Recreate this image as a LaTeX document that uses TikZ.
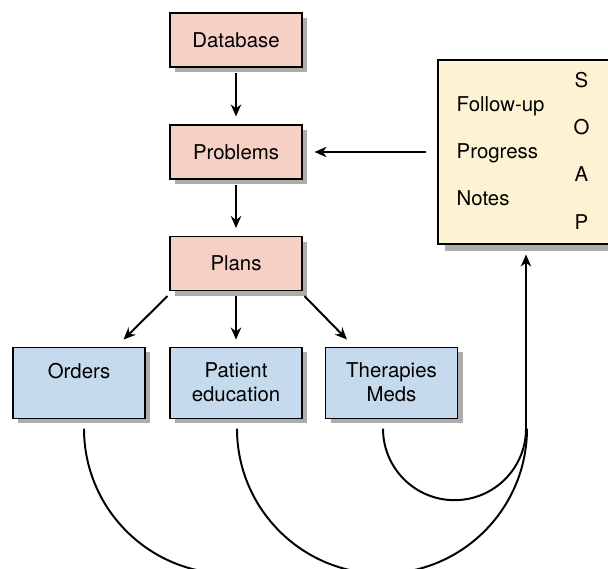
\documentclass[tikz,border=0pt]{standalone}
\usepackage{fontspec}
\setmainfont{TeX Gyre Heros}
\usetikzlibrary{arrows.meta,shadows}
\definecolor{chartpink}{RGB}{246,208,196}
\definecolor{chartblue}{RGB}{198,218,238}
\definecolor{chartcream}{RGB}{253,243,210}
\tikzstyle{chartbox}=[draw, line width=0.8pt, text centered,
    font=\fontsize{14.5}{17}\selectfont]
\tikzstyle{record}=[chartbox, fill=chartpink, minimum width=3.3cm,
    minimum height=1.35cm,
    drop shadow={shadow xshift=0.125cm, shadow yshift=-0.125cm, fill=black!32, opacity=1}]
\tikzstyle{action}=[chartbox, fill=chartblue, minimum width=3.3cm,
    minimum height=1.775cm, align=center,
    drop shadow={shadow xshift=0.125cm, shadow yshift=-0.125cm, fill=black!32, opacity=1}]
\tikzstyle{notes}=[chartbox, fill=chartcream, minimum width=4.4cm,
    minimum height=4.6cm,
    drop shadow={shadow xshift=0.175cm, shadow yshift=-0.175cm, fill=black!32, opacity=1}]
\tikzstyle{notetext}=[font=\fontsize{14.5}{17}\selectfont, inner sep=0pt]
\tikzstyle{flow}=[line width=1.4pt, -{Stealth[length=3mm, width=2.6mm]}]
\tikzstyle{feedback}=[line width=1.4pt]

\begin{document}
\begin{tikzpicture}
    \clip (0,0) rectangle (15.2,14.225);
    \node (db) [record] at (5.9,13.225) {Database};
    \path (db)+(0,-2.8) node (prob) [record] {Problems};
    \path (prob)+(0,-2.79) node (plans) [record] {Plans};
    \path (plans)+(-3.925,-2.975) node (orders) [action] {Orders\\ \mbox{}};
    \path (plans)+(0,-2.975) node (educ) [action] {Patient\\education};
    \path (plans)+(3.8875,-2.975) node (ther) [action] {Therapies\\Meds};
    \path (prob)+(7.25,0) node (soap) [notes] {};
    % left column and SOAP letters
    \foreach \txt [count=\i from 0] in {Follow-up,Progress,Notes}
      \node[notetext, anchor=base west] at ([shift={(0.475,-1.3-1.18*\i)}]soap.north west) {\txt};
    \foreach \ltr [count=\i from 0] in {S,O,A,P}
      \node[notetext, anchor=base] at ([shift={(3.6,-0.7-1.18*\i)}]soap.north west) {\ltr};
    \path [draw, flow, shorten <=0.125cm, shorten >=0.2cm] (db.south) -- (prob.north);
    \path [draw, flow, shorten <=0.125cm, shorten >=0.2cm] (prob.south) -- (plans.north);
    \path [draw, flow, shorten <=0.275cm, shorten >=0.3cm] (soap.west |- prob) -- (prob.east);
    \path [draw, flow] ([shift={(-0.05,-0.125)}]plans.south west) -- ([shift={(-0.55,0.175)}]orders.north east);
    \path [draw, flow, shorten <=0.125cm, shorten >=0.175cm] (plans.south) -- (educ.north);
    \path [draw, flow] ([shift={(0.05,-0.125)}]plans.south east) -- ([shift={(0.55,0.175)}]ther.north west);
    % return loops into the notes
    \draw [feedback] ([shift={(0.125,-0.25)}]orders.south) arc (180:270:3.625);
    \draw [feedback] ([shift={(0.025,-0.25)}]educ.south) arc (180:360:3.625);
    \draw [feedback, flow, shorten >=0.25cm] ([shift={(-0.2125,-0.25)}]ther.south)
      arc (180:360:1.7875) -- (soap.south);
\end{tikzpicture}
\end{document}
